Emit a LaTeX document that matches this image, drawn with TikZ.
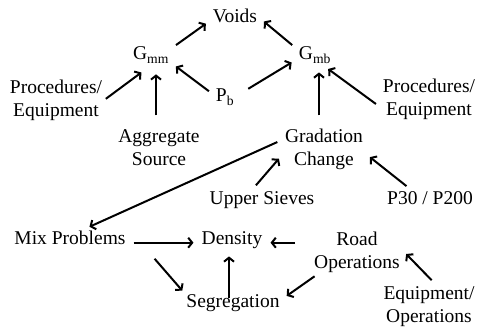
\documentclass[tikz,border=0pt]{standalone}
\usepackage{fontspec}
\setmainfont{Liberation Serif}
\usepackage{tikz}
\usetikzlibrary{arrows.meta, positioning, calc}

\tikzset{
  factor/.style={inner sep=2pt, font=\fontsize{19.5}{23}\selectfont, align=center},
  infl/.style={line width=2pt, -{Straight Barb[length=4pt, width=10pt]},
    shorten <=6pt, shorten >=6pt}
}

\begin{document}
\begin{tikzpicture}[x=1pt, y=-1pt]
  \useasboundingbox (0,0) rectangle (479,328);

  % top level
  \node[factor, anchor=base] (voids) at (235,23) {Voids};
  \node[factor, anchor=base] (gmm) at (151,60) {G\textsubscript{mm}};
  \node[factor, anchor=base] (gmb) at (315,60) {G\textsubscript{mb}};
  \node[factor, anchor=base] (pb) at (225,102) {P\textsubscript{b}};
  \node[factor, anchor=north] (procL) at (56,77.5) {Procedures/\\Equipment};
  \node[factor, anchor=north] (aggr) at (159,127.5) {Aggregate\\Source};
  \node[factor, anchor=north] (procR) at (429,76.5) {Procedures/\\Equipment};
  \node[factor, anchor=north] (grad) at (324,126.5) {Gradation\\Change};
  \node[factor, anchor=base] (upper) at (262,205) {Upper Sieves};
  \node[factor, anchor=base] (p30) at (430,205) {P30 / P200};

  % bottom level
  \node[factor, anchor=base] (mix) at (70,245) {Mix Problems};
  \node[factor, anchor=base] (density) at (232,245) {Density};
  \node[factor, anchor=north] (road) at (357,229.5) {Road\\Operations};
  \node[factor, anchor=base] (segr) at (233,308) {Segregation};
  \node[factor, anchor=north] (equip) at (429,284.5) {Equipment/\\Operations};

  % influences
  \draw[infl] (gmm.18) -- (voids.189);
  \draw[infl] (gmb.161) -- (voids.-3);
  \draw[infl, shorten <=2pt, shorten >=12pt] (procL.east) -- (gmm.south);
  \draw[infl, shorten <=12pt, shorten >=9pt] ([xshift=-3pt]aggr.north) -- ([xshift=-3pt]aggr.north |- gmm.south);
  \draw[infl] (pb.168) -- (gmm.-21);
  \draw[infl, shorten <=14pt] (pb.6) -- (gmb.193);
  \draw[infl, shorten <=11pt, shorten >=7pt] ([xshift=-5pt]grad.north) -- ([xshift=-5pt]grad.north |- gmb.south);
  \draw[infl] (procR.190) -- (gmb.-51);
  \draw[infl] (grad.167) -- (mix.33);
  \draw[infl] (upper.133) -- (grad.187);
  \draw[infl] (p30.155) -- (grad.-6);
  \draw[infl] (mix.mid east) -- (density.mid west);
  \draw[infl, shorten <=17pt] (road.west |- density.mid east) -- (density.mid east);
  \draw[infl, shorten <=15pt, shorten >=3pt] ([xshift=17pt]mix.south east) -- (segr.north west);
  \draw[infl, shorten >=5pt] ([xshift=-4pt]segr.center) -- ([xshift=-4pt]segr.center |- density.south);
  \draw[infl, shorten <=3pt] ([xshift=5pt]road.south west) -- (segr.5);
  \draw[infl] (equip.73) -- (road.3);
\end{tikzpicture}
\end{document}
